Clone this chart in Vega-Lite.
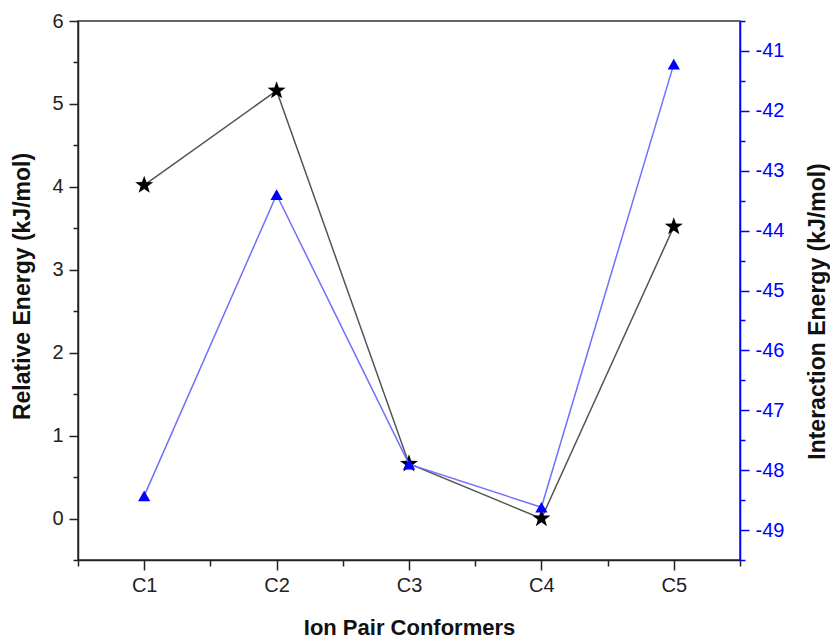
{
  "$schema": "https://vega.github.io/schema/vega-lite/v6.json",
  "autosize": "none",
  "width": 662,
  "height": 539,
  "padding": {"left": 78, "top": 21, "right": 90, "bottom": 80},
  "background": "white",
  "config": {
    "view": {"stroke": "#333", "strokeWidth": 1.5},
    "font": "Liberation Sans",
    "axis": {"grid": false, "labelFont": "Liberation Sans", "titleFont": "Liberation Sans"}
  },
  "data": {
    "values": [
      {"conformer": "C1", "idx": 1, "relative": 4.02, "interaction": -48.43},
      {"conformer": "C2", "idx": 2, "relative": 5.16, "interaction": -43.40},
      {"conformer": "C3", "idx": 3, "relative": 0.66, "interaction": -47.90},
      {"conformer": "C4", "idx": 4, "relative": 0.0, "interaction": -48.62},
      {"conformer": "C5", "idx": 5, "relative": 3.52, "interaction": -41.22}
    ]
  },
  "encoding": {
    "x": {
      "field": "idx",
      "type": "quantitative",
      "scale": {"domain": [0.5, 5.5], "nice": false, "zero": false},
      "axis": {
        "orient": "bottom",
        "title": "Ion Pair Conformers",
        "values": [0.5, 1, 1.5, 2, 2.5, 3, 3.5, 4, 4.5, 5, 5.5],
        "labelExpr": "datum.value % 1 === 0 ? 'C' + datum.value : ''",
        "tickSize": {"condition": {"test": "datum.value % 1 === 0", "value": 10}, "value": 6},
        "tickColor": "#222",
        "tickWidth": 1.5,
        "domainColor": "#222",
        "domainWidth": 1.5,
        "labelFontSize": 20,
        "labelColor": "#222",
        "labelPadding": 5,
        "titleFontSize": 22,
        "titleFontWeight": "bold",
        "titleColor": "#111",
        "titleX": 331,
        "titleY": 67,
        "titleBaseline": "middle",
        "titleAlign": "center"
      }
    }
  },
  "layer": [
    {
      "encoding": {
        "y": {
          "field": "relative",
          "type": "quantitative",
          "scale": {"domain": [-0.5, 6], "nice": false, "zero": false},
          "axis": {
            "orient": "left",
            "title": "Relative Energy (kJ/mol)",
            "values": [-0.5, 0, 0.5, 1, 1.5, 2, 2.5, 3, 3.5, 4, 4.5, 5, 5.5, 6],
            "labelExpr": "datum.value % 1 === 0 ? datum.value : ''",
            "tickSize": {"condition": {"test": "datum.value % 1 === 0", "value": 9}, "value": 5},
            "tickColor": "#222",
            "tickWidth": 1.5,
            "domainColor": "#222",
            "domainWidth": 1.5,
            "labelFontSize": 20,
            "labelColor": "#222",
            "labelPadding": 6,
            "titleFontSize": 23,
            "titleFontWeight": "bold",
            "titleColor": "#111",
            "titleX": -56,
            "titleY": 265,
            "titleAngle": -90,
            "titleBaseline": "middle",
            "titleAlign": "center"
          }
        }
      },
      "layer": [
        {"mark": {"type": "line", "color": "#555", "strokeWidth": 1.5}},
        {"mark": {"type": "point", "shape": "M0,-1L0.235,-0.324L0.951,-0.309L0.38,0.124L0.588,0.809L0,0.4L-0.588,0.809L-0.38,0.124L-0.951,-0.309L-0.235,-0.324Z", "filled": true, "color": "#000", "size": 360, "opacity": 1}}
      ]
    },
    {
      "encoding": {
        "y": {
          "field": "interaction",
          "type": "quantitative",
          "scale": {"domain": [-49.5, -40.5], "nice": false, "zero": false},
          "axis": {
            "orient": "right",
            "title": "Interaction Energy (kJ/mol)",
            "values": [-49.5, -49, -48.5, -48, -47.5, -47, -46.5, -46, -45.5, -45, -44.5, -44, -43.5, -43, -42.5, -42, -41.5, -41, -40.5],
            "labelExpr": "datum.value % 1 === 0 ? datum.value : ''",
            "tickSize": {"condition": {"test": "datum.value % 1 === 0", "value": 9}, "value": 5},
            "tickColor": "#0000ff",
            "tickWidth": 1.5,
            "domainColor": "#0000ff",
            "domainWidth": 1.5,
            "labelFontSize": 20,
            "labelColor": "#0000ff",
            "labelPadding": 6,
            "titleFontSize": 23,
            "titleFontWeight": "bold",
            "titleColor": "#111",
            "titleX": 77,
            "titleY": 290,
            "titleAngle": -90,
            "titleBaseline": "middle",
            "titleAlign": "center"
          }
        }
      },
      "layer": [
        {"mark": {"type": "line", "color": "#7070ff", "strokeWidth": 1.5}},
        {"mark": {"type": "point", "shape": "triangle-up", "filled": true, "color": "#0000ff", "size": 150, "opacity": 1}}
      ]
    }
  ],
  "resolve": {"scale": {"y": "independent"}}
}
